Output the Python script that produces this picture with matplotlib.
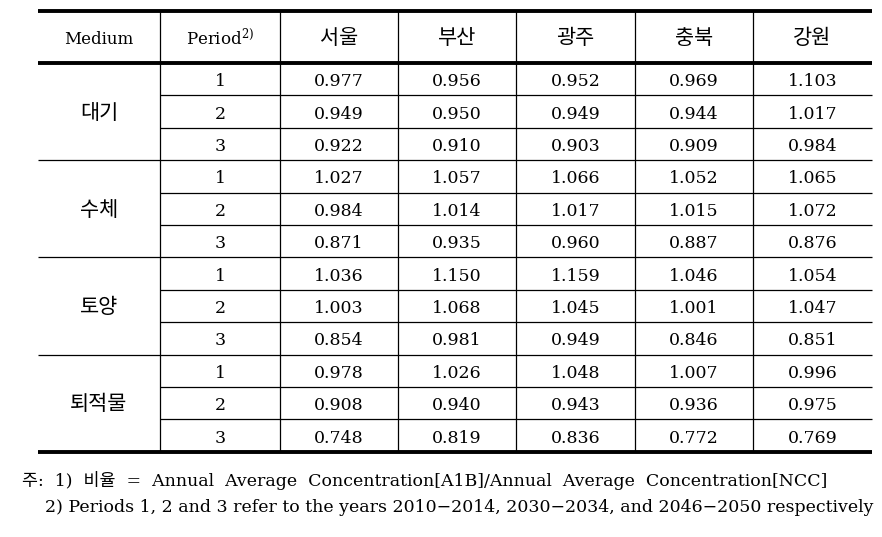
import numpy as np
import matplotlib.pyplot as plt

plt.rcParams['mathtext.fontset'] = 'dejavuserif'

media = ['대기', '수체', '토양', '퇴적물']
periods = ['1', '2', '3']
regions = ['서울', '부산', '광주', '충북', '강원']

# ratio values, rows = period 1..3, cols = regions
air = [[0.977, 0.956, 0.952, 0.969, 1.103],
       [0.949, 0.950, 0.949, 0.944, 1.017],
       [0.922, 0.910, 0.903, 0.909, 0.984]]
water = [[1.027, 1.057, 1.066, 1.052, 1.065],
         [0.984, 1.014, 1.017, 1.015, 1.072],
         [0.871, 0.935, 0.960, 0.887, 0.876]]
soil = [[1.036, 1.150, 1.159, 1.046, 1.054],
        [1.003, 1.068, 1.045, 1.001, 1.047],
        [0.854, 0.981, 0.949, 0.846, 0.851]]
sediment = [[0.978, 1.026, 1.048, 1.007, 0.996],
            [0.908, 0.940, 0.943, 0.936, 0.975],
            [0.748, 0.819, 0.836, 0.772, 0.769]]

note1 = '주:  1)  비율  =  Annual  Average  Concentration[A1B]/Annual  Average  Concentration[NCC]'
note2 = '2) Periods 1, 2 and 3 refer to the years 2010−2014, 2030−2034, and 2046−2050 respectively'

W, H = 882, 537
col_edges = [38, 160, 280, 398, 516, 635, 753, 872]
top, head_bot, row_h = 11, 63, 32.4
fam = ['DejaVu Serif', 'Noto Sans CJK KR']
fs = 12.5
fs_kr = 15
dy = 2.5  # nudge text down to sit visually centred in the row

fig = plt.figure(figsize=(W / 100, H / 100), dpi=100)
ax = fig.add_axes([0, 0, 1, 1])
ax.set_xlim(0, W)
ax.set_ylim(H, 0)
ax.axis('off')

n_rows = len(media) * len(periods)
bottom = head_bot + n_rows * row_h
centers = [(col_edges[i] + col_edges[i + 1]) / 2 for i in range(len(col_edges) - 1)]

# rules
ax.hlines([top, head_bot, bottom], col_edges[0], col_edges[-1], color='black', lw=2.8)
for r in range(1, n_rows):
    y = head_bot + r * row_h
    x0 = col_edges[0] if r % 3 == 0 else col_edges[1]
    ax.hlines(y, x0, col_edges[-1], color='black', lw=0.9)
ax.vlines(col_edges[1:-1], top, bottom, color='black', lw=0.9)

# header
hy = (top + head_bot) / 2 + dy
ax.text(centers[0], hy, 'Medium', ha='center', va='center', fontsize=fs - 0.5, family=fam)
ax.text(centers[1], hy - 1, r'Period$^{2)}$', ha='center', va='center', fontsize=fs - 0.5, family=fam)
for i, name in enumerate(regions):
    ax.text(centers[i + 2], hy - 1, name, ha='center', va='center', fontsize=fs_kr, family=fam)

# body
for g, (name, block) in enumerate(zip(media, [air, water, soil, sediment])):
    gy = head_bot + (g * 3 + 1.5) * row_h + dy - 1
    ax.text(centers[0], gy, name, ha='center', va='center', fontsize=fs_kr, family=fam)
    for j, p in enumerate(periods):
        y = head_bot + (g * 3 + j + 0.5) * row_h + dy
        ax.text(centers[1], y, p, ha='center', va='center', fontsize=fs, family=fam)
        for k, v in enumerate(block[j]):
            ax.text(centers[k + 2], y, f'{v:.3f}', ha='center', va='center', fontsize=fs, family=fam)

# footnotes
ax.text(22, 481, note1, ha='left', va='center', fontsize=12.5, family=fam)
ax.text(45, 507, note2, ha='left', va='center', fontsize=12.5, family=fam)

fig.savefig('out.png', dpi=100)
